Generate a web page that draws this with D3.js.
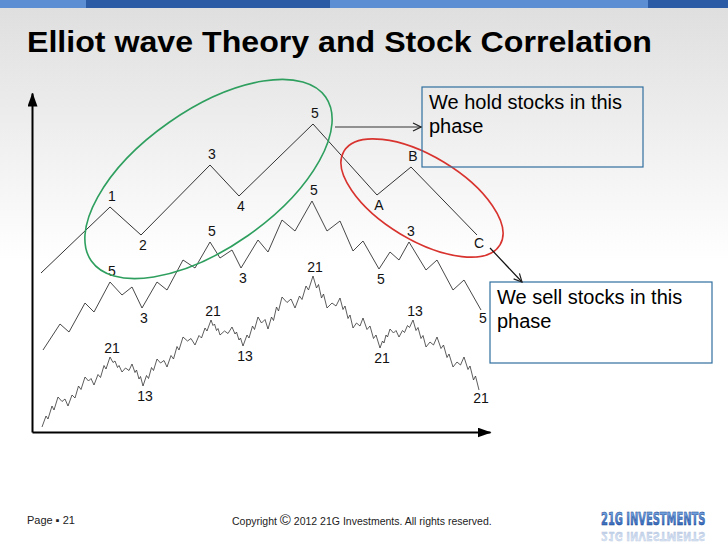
<!DOCTYPE html>
<html>
<head>
<meta charset="utf-8">
<script src="https://cdn.jsdelivr.net/npm/d3@7"></script>
<style>
  html, body { margin: 0; padding: 0; background: #fff; }
  svg { display: block; font-family: "Liberation Sans", Arial, sans-serif; }
</style>
</head>
<body>
<svg id="chart" width="728" height="546"></svg>
<script>
// waves as [time, price] pairs
const primaryWave = [[9,159],[78,225],[109,197],[178,267],[207,236],[281,308],[345,237],[379,265],[445,197]];
const primaryLabels = [[1,"1"],[2,"2"],[3,"3"],[4,"4"],[5,"5"],[6,"A"],[7,"B"],[8,"C"]];

const intermediateWave = [
  [11,82],[28,108],[37,100],[53,129],[62,120],[78,150],[90,137],[100,145],[110,124],
  [125,150],[135,142],[151,172],[163,164],[178,190],[188,174],[200,182],[209,164],
  [226,192],[236,180],[250,212],[263,201],[280,231],[295,201],[308,211],[321,181],
  [331,191],[347,163],[358,180],[367,172],[377,190],[394,162],[405,172],[421,142],
  [432,152],[449,122]
];
const intermediateLabels = [[5,"5"],[8,"3"],[13,"5"],[16,"3"],[21,"5"],[26,"5"],[29,"3"],[34,"5"]];

const minorWave = [
  [10,5],
  [14,16],[16,13],[20,26],[22,22],[26,35],
  [30,30.5],[33,33],[36,26],
  [40,37],[43,34],[46.5,46],[49,42.5],[53,55],
  [56.5,51],[59,53.5],[62,47],
  [66,57.5],[68.5,54.5],[72,66.5],[74,63],[78,75],
  [81,69.5],[83,71],[85.5,64.5],[87,66.5],[90,60],
  [93.5,64],[97,61.5],[100,68],
  [103,59.5],[104.5,62],[107,53],[108.5,55.5],[111,46],
  [114.5,56.5],[116.5,53.5],[119.5,64.5],[121.5,61.5],[125,73],
  [128.5,69],[132,71.5],[135,65],
  [139,76.5],[141.5,73],[145,85.5],[147,82],[151,95],
  [155.5,91],[159,93.5],[163,87],
  [167,96.5],[169.5,94],[173,104],[175,101],[179,112],
  [181,106.5],[182.5,108],[184.5,101.5],[186,103.5],[188,97],
  [192.5,101],[196,98.5],[200,105],
  [203,98],[204.5,100],[207,92],[208.5,94],[211,86],
  [215,97],[217,94],[220.5,106],[222.5,102.5],[226,115],
  [229.5,109],[233,112.5],[236,103],
  [239.5,115],[241.5,111.5],[244.5,125],[246.5,121],[250,135],
  [255,129.5],[259,133],[263,124],
  [267.5,136],[270,132.5],[274,146],[276.5,142],[281,156],
  [284.5,144],[286.5,147.5],[289.5,134],[291.5,138],[295,124],
  [300,129],[304,126],[308,134],
  [311,122.5],[313,126],[316,113.5],[318,117],[321,104],
  [324.5,109],[328,106],[331,114],
  [335,102.5],[338,106],[341.5,93.5],[344,97],[348,84],
  [350.5,91],[352,89],[354,97],[355.5,95],[358,103],
  [361.5,99],[364,101.5],[367,95],
  [370.5,101.5],[372.5,99.5],[375.5,106.5],[377.5,104.5],[381,112],
  [384,101.5],[386,104.5],[389,93.5],[391,96.5],[394,85],
  [398,90],[401.5,87],[405,95],
  [409,83.5],[411.5,87],[415,74.5],[417,78],[421,65],
  [425,70],[428.5,67],[432,75],
  [436,62.5],[438,66],[441.5,52],[443.5,56],[447,42]
];
const minorLabels = [[21,"21"],[34,"13"],[55,"21"],[68,"13"],[89,"21"],[110,"21"],[123,"13"],[144,"21"]];

// highlighted phases: [centreTime, centrePrice, rx, ry, angle]
const holdPhase = [176.5, 253, 143, 69, -35];
const sellPhase = [390, 234, 91, 42, 31];

const W = 728, H = 546;
const svg = d3.select("#chart");
const defs = svg.append("defs");

// background
const bg = defs.append("linearGradient").attr("id", "bg")
  .attr("x1", 0).attr("y1", 0).attr("x2", 0).attr("y2", 1);
bg.append("stop").attr("offset", "0%").attr("stop-color", "#dedede");
bg.append("stop").attr("offset", "48%").attr("stop-color", "#ffffff");
bg.append("stop").attr("offset", "100%").attr("stop-color", "#ffffff");
svg.append("rect").attr("width", W).attr("height", H).attr("fill", "url(#bg)");

// header bar
[[0, 86, "#5c8ed3"], [86, 330, "#2c5ba6"], [330, 648, "#5c8ed3"], [648, 728, "#2c5ba6"]]
  .forEach(([a, b, c]) => svg.append("rect")
    .attr("x", a).attr("y", 0).attr("width", b - a).attr("height", 8).attr("fill", c));

svg.append("text")
  .attr("x", 27).attr("y", 52)
  .attr("font-size", 30).attr("font-weight", "bold").attr("fill", "#000")
  .attr("textLength", 625).attr("lengthAdjust", "spacingAndGlyphs")
  .text("Elliot wave Theory and Stock Correlation");

// scales
const x = d3.scaleLinear().domain([0, 458]).range([32, 490]);
const y = d3.scaleLinear().domain([0, 339]).range([432, 93]);

// markers
defs.append("marker").attr("id", "axisHead")
  .attr("markerUnits", "userSpaceOnUse")
  .attr("viewBox", "0 0 14 10").attr("refX", 13).attr("refY", 5)
  .attr("markerWidth", 14).attr("markerHeight", 10).attr("orient", "auto")
  .append("path").attr("d", "M0,0L14,5L0,10Z").attr("fill", "#000");
defs.append("marker").attr("id", "openHead")
  .attr("markerUnits", "userSpaceOnUse")
  .attr("viewBox", "0 0 10 10").attr("refX", 9).attr("refY", 5)
  .attr("markerWidth", 10).attr("markerHeight", 10).attr("orient", "auto")
  .append("path").attr("d", "M1,1L9,5L1,9").attr("fill", "none")
  .attr("stroke", "#222").attr("stroke-width", 1.2);

// axes
const styleAxis = (g) => {
  g.select(".domain").attr("stroke", "#000").attr("stroke-width", 2)
    .attr("marker-end", "url(#axisHead)");
  g.selectAll(".tick").remove();
};
svg.append("g").attr("transform", `translate(0,${y(0)})`)
  .call(d3.axisBottom(x).ticks(0).tickSizeOuter(0)).call(styleAxis);
svg.append("g").attr("transform", `translate(${x(0)},0)`)
  .call(d3.axisLeft(y).ticks(0).tickSizeOuter(0)).call(styleAxis);

// ellipses
const drawPhase = ([t, p, rx, ry, ang], color) => {
  const cx = x(t), cy = y(p);
  svg.append("ellipse")
    .attr("cx", cx).attr("cy", cy)
    .attr("rx", x(rx) - x(0)).attr("ry", y(0) - y(ry))
    .attr("transform", `rotate(${ang},${cx},${cy})`)
    .attr("fill", "none").attr("stroke", color).attr("stroke-width", 1.6);
};

// waves
const line = d3.line().x((d) => x(d[0])).y((d) => y(d[1]));
const drawWave = (data, labels, width, aboveGap) => {
  svg.append("path").datum(data)
    .attr("fill", "none").attr("stroke", "#333")
    .attr("stroke-width", width).attr("stroke-linejoin", "miter")
    .attr("d", line);
  svg.append("g").selectAll("text").data(labels).join("text")
    .attr("font-size", 14).attr("fill", "#111").attr("text-anchor", "middle")
    .attr("x", ([i]) => x(data[i][0]) + 2)
    .attr("y", ([i]) => {
      const next = data[i + 1], prev = data[i - 1];
      if (!next) return y(data[i][1]) + 13;
      return data[i][1] > prev[1] ? y(data[i][1]) - aboveGap : y(data[i][1]) + 15;
    })
    .text(([, s]) => s);
};

drawWave(primaryWave, primaryLabels, 1, 6);
drawWave(intermediateWave, intermediateLabels, 0.9, 6);
drawWave(minorWave, minorLabels, 0.8, 4);

drawPhase(holdPhase, "#2e9f5e");
drawPhase(sellPhase, "#d8332e");

// callouts
const callout = (bx, by, bw, bh, lines) => {
  svg.append("rect").attr("x", bx).attr("y", by).attr("width", bw).attr("height", bh)
    .attr("fill", "none").attr("stroke", "#2f6f9f").attr("stroke-width", 1.2);
  svg.append("g").selectAll("text").data(lines).join("text")
    .attr("x", bx + 7).attr("y", (d, i) => by + 22 + i * 24)
    .attr("font-size", 20).attr("fill", "#000")
    .text((d) => d);
};
callout(422, 87, 221, 80, ["We hold stocks in this", "phase"]);
callout(490, 282, 222, 81, ["We sell stocks in this", "phase"]);

svg.append("line")
  .attr("x1", x(303)).attr("y1", y(305)).attr("x2", 421).attr("y2", y(305))
  .attr("stroke", "#333").attr("stroke-width", 1).attr("marker-end", "url(#openHead)");
svg.append("line")
  .attr("x1", x(458)).attr("y1", y(184)).attr("x2", 522).attr("y2", 282)
  .attr("stroke", "#111").attr("stroke-width", 1.2).attr("marker-end", "url(#openHead)");

// footer
svg.append("text").attr("x", 27).attr("y", 524)
  .attr("font-size", 11).attr("fill", "#222").text("Page \u25AA 21");
const copy = svg.append("text").attr("x", 232).attr("y", 525)
  .attr("font-size", 10.5).attr("fill", "#222");
copy.append("tspan").text("Copyright ");
copy.append("tspan").attr("font-size", 15).text("\u00A9");
copy.append("tspan").text(" 2012 21G Investments. All rights reserved.");

// logo with its faded mirror image (tall, condensed lettering)
const lg = defs.append("linearGradient").attr("id", "logoFill")
  .attr("x1", 0).attr("y1", 0).attr("x2", 0).attr("y2", 1);
lg.append("stop").attr("offset", "0%").attr("stop-color", "#8ab8ee");
lg.append("stop").attr("offset", "100%").attr("stop-color", "#1f56b0");
const logo = (g) => g.append("text")
  .attr("x", 0).attr("y", 0)
  .attr("font-family", "'DejaVu Sans Condensed', 'DejaVu Sans', sans-serif")
  .attr("font-size", 11).attr("font-weight", "bold")
  .attr("fill", "url(#logoFill)").attr("stroke", "#163f8c").attr("stroke-width", 0.35)
  .text("21G INVESTMENTS");
logo(svg.append("g").attr("transform", "translate(601,525) scale(1,1.65)"));
logo(svg.append("g").attr("transform", "translate(601,532) scale(1,-1.05)").attr("opacity", 0.3));
</script>
</body>
</html>
